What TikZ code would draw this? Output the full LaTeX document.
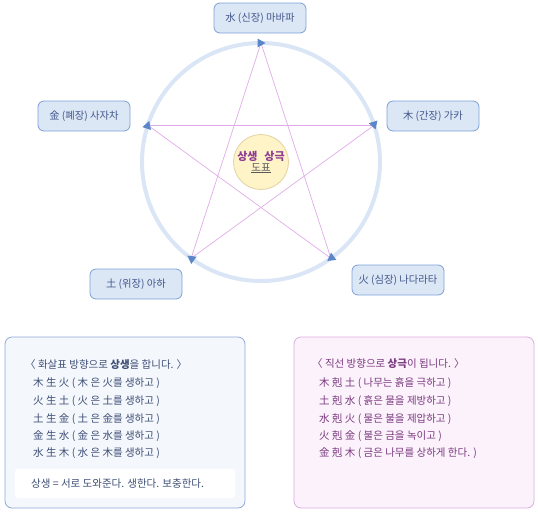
\documentclass[tikz,border=0pt]{standalone}
\usepackage{fontspec}
\setmainfont{Noto Sans CJK KR}
\usetikzlibrary{calc}
\definecolor{boxfill}{HTML}{DCE7F6}
\definecolor{boxdraw}{HTML}{7C9FD6}
\definecolor{boxtext}{HTML}{42568A}
\definecolor{circc}{HTML}{DAE6F5}
\definecolor{starc}{HTML}{E0ACE8}
\definecolor{arrowc}{HTML}{5B86C8}
\definecolor{cfill}{HTML}{FFF3C8}
\definecolor{cdraw}{HTML}{E2D3A0}
\definecolor{cpurple}{HTML}{8E3C94}
\definecolor{lfill}{HTML}{F4F7FC}
\definecolor{ldraw}{HTML}{8FAAD8}
\definecolor{ltext}{HTML}{3E4F75}
\definecolor{rfill}{HTML}{FBF2FB}
\definecolor{rdraw}{HTML}{D9AEE0}
\definecolor{rtext}{HTML}{7B3A80}
\tikzset{
  elembox/.style={draw=boxdraw, fill=boxfill, rounded corners=6pt, line width=0.8pt,
    minimum width=92pt, minimum height=30pt, inner sep=0pt, text=boxtext,
    font=\fontsize{10.3}{12}\selectfont},
  starline/.style={draw=starc, line width=0.7pt},
  tri/.pic={\fill[arrowc] (4.5,0) -- (-3.5,4.5) -- (-3.5,-4.5) -- cycle;},
  ltxt/.style={anchor=west, inner sep=0pt, text=ltext, font=\fontsize{10.5}{12}\selectfont},
  rtxt/.style={anchor=west, inner sep=0pt, text=rtext, font=\fontsize{10.5}{12}\selectfont},
}
\begin{document}
\begin{tikzpicture}[x=1pt, y=-1pt]
\useasboundingbox (0,0) rectangle (538,512);
% circle
\coordinate (c) at (261,162);
\draw[circc, line width=4pt] (c) circle[radius=119];
% vertices
\coordinate (vt) at (261,43);
\coordinate (vr) at (374.2,125.2);
\coordinate (vbr) at (330.9,258.3);
\coordinate (vbl) at (191.1,258.3);
\coordinate (vl) at (147.8,125.2);
% star
\draw[starline] (vt) -- (vbr);
\draw[starline] (vbr) -- (vl);
\draw[starline] (vl) -- (vr);
\draw[starline] (vr) -- (vbl);
\draw[starline] (vbl) -- (vt);
% arrowheads
\pic[rotate=0] at (vt) {tri};
\pic[rotate=-72] at (vr) {tri};
\pic[rotate=-144] at (vbr) {tri};
\pic[rotate=144] at (vbl) {tri};
\pic[rotate=72] at (vl) {tri};
% center
\node[circle, draw=cdraw, fill=cfill, line width=0.8pt, minimum size=55pt, inner sep=0pt,
  align=center] (ctr) at (c) {\textcolor{cpurple}{\fontsize{11}{13}\selectfont\bfseries 상생\hspace{7pt}상극}\\[-1pt]
  \textcolor{black!65}{\fontsize{10.5}{12}\selectfont\underline{도표}}};
% element boxes
\node[elembox] (water) at (260,18) {水 (신장) 마바파};
\node[elembox] (metal) at (84,116) {金 (폐장) 사자차};
\node[elembox] (wood) at (433,116) {木 (간장) 가카};
\node[elembox] (earth) at (136,284) {土 (위장) 아하};
\node[elembox] (fire) at (398,280) {火 (심장) 나다라타};
% left panel
\node[draw=ldraw, fill=lfill, rounded corners=7pt, line width=0.8pt, minimum width=240pt,
  minimum height=171pt, inner sep=0pt] (lp) at (125,422.5) {};
\node[fill=white, rounded corners=3pt, minimum width=220pt, minimum height=29pt, inner sep=0pt] (lnote) at (125,483.5) {};
\node[ltxt] (lt) at (25,365) {〈 화살표 방향으로 \textbf{상생}을 합니다. 〉};
\node[ltxt] (l1) at (33,383) {木 生 火 ( 木 은 火를 생하고 )};
\node[ltxt] (l2) at (33,401) {火 生 土 ( 火 은 土를 생하고 )};
\node[ltxt] (l3) at (33,419) {土 生 金 ( 土 은 金를 생하고 )};
\node[ltxt] (l4) at (33,436) {金 生 水 ( 金 은 水를 생하고 )};
\node[ltxt] (l5) at (33,453) {水 生 木 ( 水 은 木를 생하고 )};
\node[ltxt] (ln) at (31,484) {상생 = 서로 도와준다. 생한다. 보충한다.};
% right panel
\node[draw=rdraw, fill=rfill, rounded corners=7pt, line width=0.8pt, minimum width=240pt,
  minimum height=171pt, inner sep=0pt] (rp) at (414,422.5) {};
\node[rtxt] (rt) at (312,364) {〈 직선 방향으로 \textbf{상극}이 됩니다. 〉};
\node[rtxt] (r1) at (319,383) {木 剋 土 ( 나무는 흙을 극하고 )};
\node[rtxt] (r2) at (319,401) {土 剋 水 ( 흙은 물을 제방하고 )};
\node[rtxt] (r3) at (319,419) {水 剋 火 ( 물은 불을 제압하고 )};
\node[rtxt] (r4) at (319,436) {火 剋 金 ( 불은 금을 녹이고 )};
\node[rtxt] (r5) at (319,453) {金 剋 木 ( 금은 나무를 상하게 한다. )};
\end{tikzpicture}
\end{document}
